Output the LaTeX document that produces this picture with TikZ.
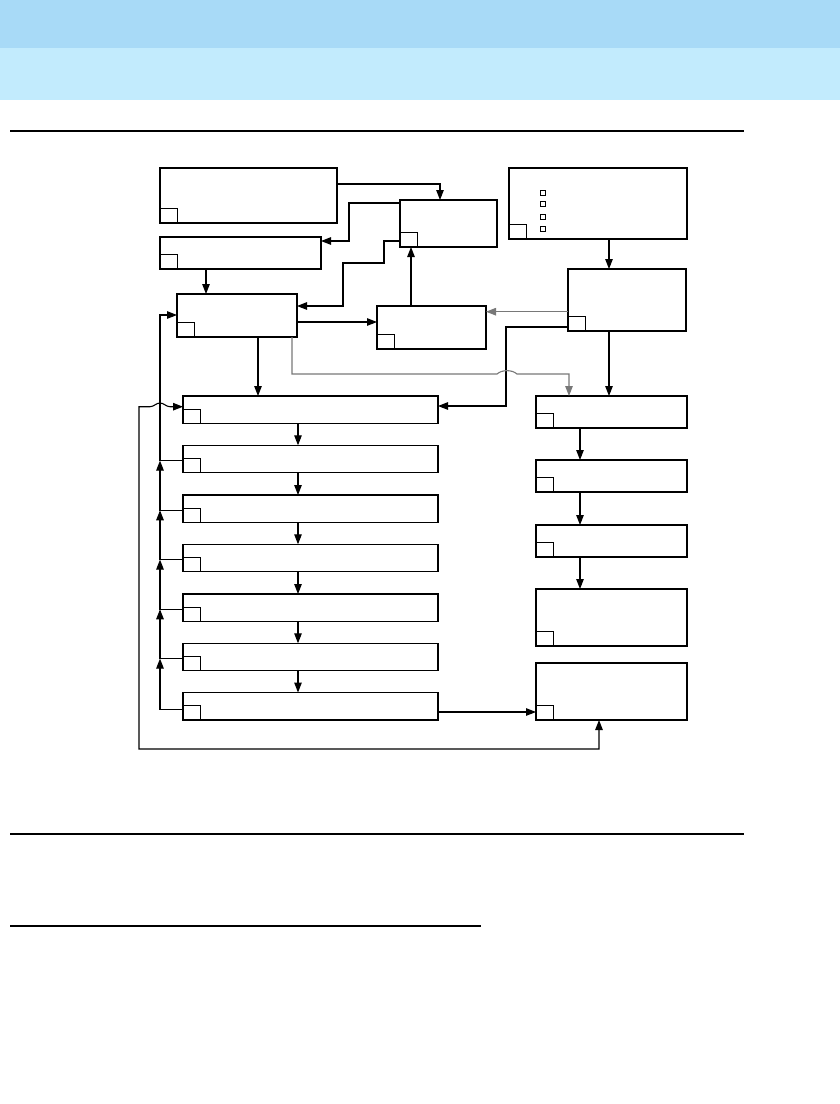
\documentclass[tikz,border=0pt]{standalone}
\usetikzlibrary{arrows.meta,calc}
\definecolor{hdrdark}{RGB}{168,218,247}
\definecolor{hdrlight}{RGB}{194,235,253}
\definecolor{lgray}{RGB}{120,120,120}
\begin{document}
\begin{tikzpicture}[x=1pt,y=-1pt,
  box/.style={draw,line width=1.1pt,anchor=north west,inner sep=0pt,outer sep=0pt},
  sq/.style={draw,line width=1pt,anchor=south west,inner sep=0pt,outer sep=0pt,minimum width=17.5pt,minimum height=14.5pt},
  chk/.style={draw,line width=0.8pt,anchor=north west,inner sep=0pt,minimum width=5pt,minimum height=5pt},
  thickb/.style={line width=2.6pt},
  arr/.style={line width=1.1pt,-{Triangle[length=10pt,width=7.5pt]}},
  arrboth/.style={line width=1.1pt,{Triangle[length=10pt,width=7.5pt]}-{Triangle[length=10pt,width=7.5pt]}},
  garr/.style={arr,draw=lgray,color=lgray}]
\useasboundingbox (0,0) rectangle (840,1104);
\fill[white] (0,0) rectangle (840,1104);
% header
\fill[hdrdark] (0,0) rectangle (840,48);
\fill[hdrlight] (0,48) rectangle (840,100);
\draw[line width=2pt] (10,131) -- (744,131);
\draw[line width=1.2pt] (10,834) -- (744,834);
\draw[line width=2.6pt] (10,926) -- (481,926);
% boxes
\node[box,minimum width=177pt,minimum height=55pt] (A) at (160,168) {};
\node[box,minimum width=161pt,minimum height=32pt] (B) at (160,237) {};
\node[box,minimum width=97pt,minimum height=47pt] (C) at (400,200) {};
\node[box,minimum width=120pt,minimum height=43pt] (D) at (177,294) {};
\node[box,minimum width=109pt,minimum height=43pt] (E) at (377,306) {};
\node[box,minimum width=178pt,minimum height=71pt] (R1) at (509,168) {};
\node[box,minimum width=118pt,minimum height=62pt] (R2) at (568,269) {};
\node[box,minimum width=151pt,minimum height=32pt] (R3) at (536,396) {};
\node[box,minimum width=151pt,minimum height=32pt] (R4) at (536,460) {};
\node[box,minimum width=151pt,minimum height=32pt] (R5) at (536,525) {};
\node[box,minimum width=151pt,minimum height=57pt] (R6) at (536,589) {};
\node[box,minimum width=151pt,minimum height=57pt] (R7) at (536,663) {};
\foreach \i/\t in {1/396,2/445.3,3/495,4/544.3,5/594,6/643.3,7/692.5}
  \node[box,minimum width=255pt,minimum height=27.5pt] (G\i) at (183,\t) {};
% thick edges
\draw[thickb] (A.north west) -- (A.south west) -- (A.south east);
\draw[thickb] (R1.north east) -- (R1.south east);
% small squares
\foreach \n in {A,B,C,D,E,R1,R2,R3,R4,R5,R6,R7,G1,G2,G3,G4,G5,G6,G7}
  \node[sq] (\n s) at (\n.south west) {};
% checkboxes
\foreach \k/\yy in {1/190.3,2/201.3,3/214.3,4/226.3}
  \node[chk] (cb\k) at (540.3,\yy) {};
% connectors
\draw[arr] (A.east |- 0,184) -| (C.north -| 440,0);
\draw[arr] (C.west |- 0,203) -- (349,203) |- (B.east |- 0,241);
\draw[arr] (C.west |- 0,241) -| (384,263) -| (343,306) -- (D.east |- 0,306);
\draw[arr] (B.south -| 206,0) -- (D.north -| 206,0);
\draw[arr] (E.north -| 411,0) -- (C.south -| 411,0);
\draw[arr] (D.east |- 0,322) -- (E.west |- 0,322);
\draw[garr] (R2.west |- 0,311.7) -- (E.east |- 0,311.7);
\draw[arr] (R2.west |- 0,327) -| (506,406) -- (G1.east |- 0,406);
\draw[arr] (R1.south -| 609,0) -- (R2.north -| 609,0);
\draw[arr] (R2.south -| 609,0) -- (R3.north -| 609,0);
\draw[garr] (D.south -| 292,0) |- (497,374) .. controls (502,369.5) and (512,369.5) .. (517,374) -| (R3.north -| 569,0);
\draw[arr] (D.south -| 258,0) -- (G1.north -| 258,0);
\foreach \i/\j in {1/2,2/3,3/4,4/5,5/6,6/7}
  \draw[arr] (G\i.south -| 298,0) -- (G\j.north -| 298,0);
\foreach \i/\j in {3/4,4/5,5/6}
  \draw[arr] (R\i.south -| 580,0) -- (R\j.north -| 580,0);
% left bus
\draw[arr] ([yshift=-1.5pt]G2.west) -| (160,315) -- (D.west |- 0,315);
\foreach \i/\j in {3/2,4/3,5/4,6/5}
  \draw[arr] ([yshift=-1.5pt]G\i.west) -| ($(G\j.west)+(-23,1.5)$);
\draw[arr] ([yshift=-3pt]G7.west) -| ($(G6.west)+(-23,1.5)$);
\draw[arr] (G7.east |- 0,712) -- (R7.west |- 0,712);
% outer loop
\draw[arrboth] (R7.south -| 599,0) |- (139,749) -- (139,406.7) -- (150,406.7) .. controls (154,406.7) and (156,403) .. (160,403) .. controls (164,403) and (166,406.7) .. (170,406.7) -- (G1.west |- 0,406.7);
\end{tikzpicture}
\end{document}
